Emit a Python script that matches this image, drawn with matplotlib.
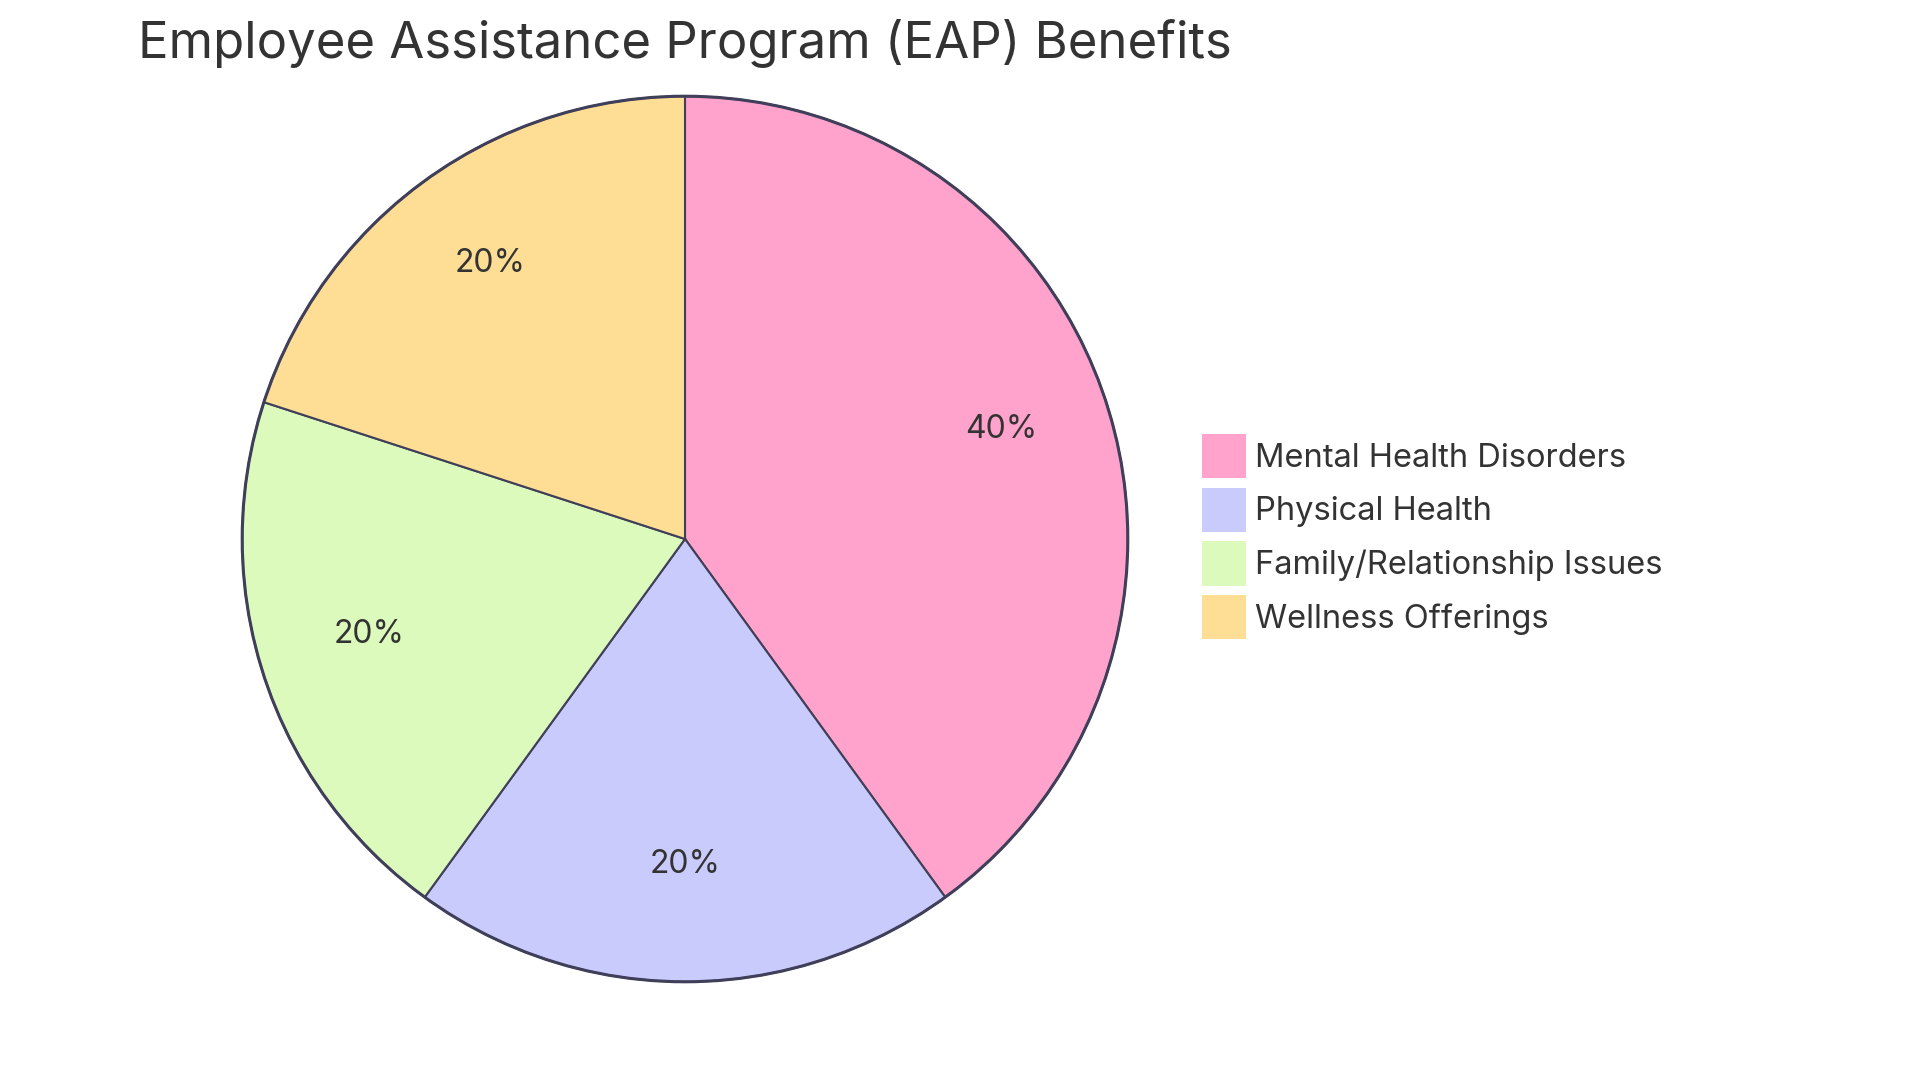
import matplotlib
matplotlib.use("Agg")
import matplotlib.pyplot as plt
from matplotlib.patches import Patch

# Chart data
categories = ["Mental Health Disorders", "Physical Health", "Family/Relationship Issues", "Wellness Offerings"]
shares = [40, 20, 20, 20]
colors = ["#FFA3CD", "#CACBFD", "#DBFABB", "#FEDD94"]

title = "Employee Assistance Program (EAP) Benefits"
text_color = "#333333"
edge_color = "#3F3F5A"

plt.rcParams['font.family'] = ['Inter', 'DejaVu Sans']

W, H = 1920, 1080
fig = plt.figure(figsize=(W / 100, H / 100), dpi=100)

# pie: center (685, 539), radius ~445 px
cx, cy, r = 685, 539, 445
ax = fig.add_axes([(cx - r) / W, (H - cy - r) / H, 2 * r / W, 2 * r / H])
wedges, texts, autotexts = ax.pie(
    shares, colors=colors, startangle=90, counterclock=False,
    autopct="%1.0f%%", pctdistance=0.75, radius=1,
    wedgeprops=dict(edgecolor=edge_color, linewidth=1.5),
    textprops=dict(color=text_color, fontsize=23),
)
# nudge labels up slightly to sit like the reference
for t in autotexts:
    x, y = t.get_position()
    t.set_position((x, y + 0.016))

# thicker outer rim
ax.add_patch(plt.Circle((0, 0), 1, fill=False, edgecolor=edge_color, linewidth=2.2))
ax.set_xlim(-1.005, 1.005)
ax.set_ylim(-1.005, 1.005)
ax.set_aspect("equal")
ax.axis("off")

fig.text(138 / W, 1 - 43 / H, title, fontsize=36.6, color=text_color,
         ha="left", va="center")

handles = [Patch(facecolor=c, edgecolor="none") for c in colors]
fig.legend(handles, categories, loc="upper left",
           bbox_to_anchor=(1202 / W, 1 - 434 / H), frameon=False,
           fontsize=23.5, labelcolor=text_color, borderpad=0, borderaxespad=0,
           handlelength=1.35, handleheight=1.72, labelspacing=0.28,
           handletextpad=0.28)

fig.savefig("out.png", dpi=100)
